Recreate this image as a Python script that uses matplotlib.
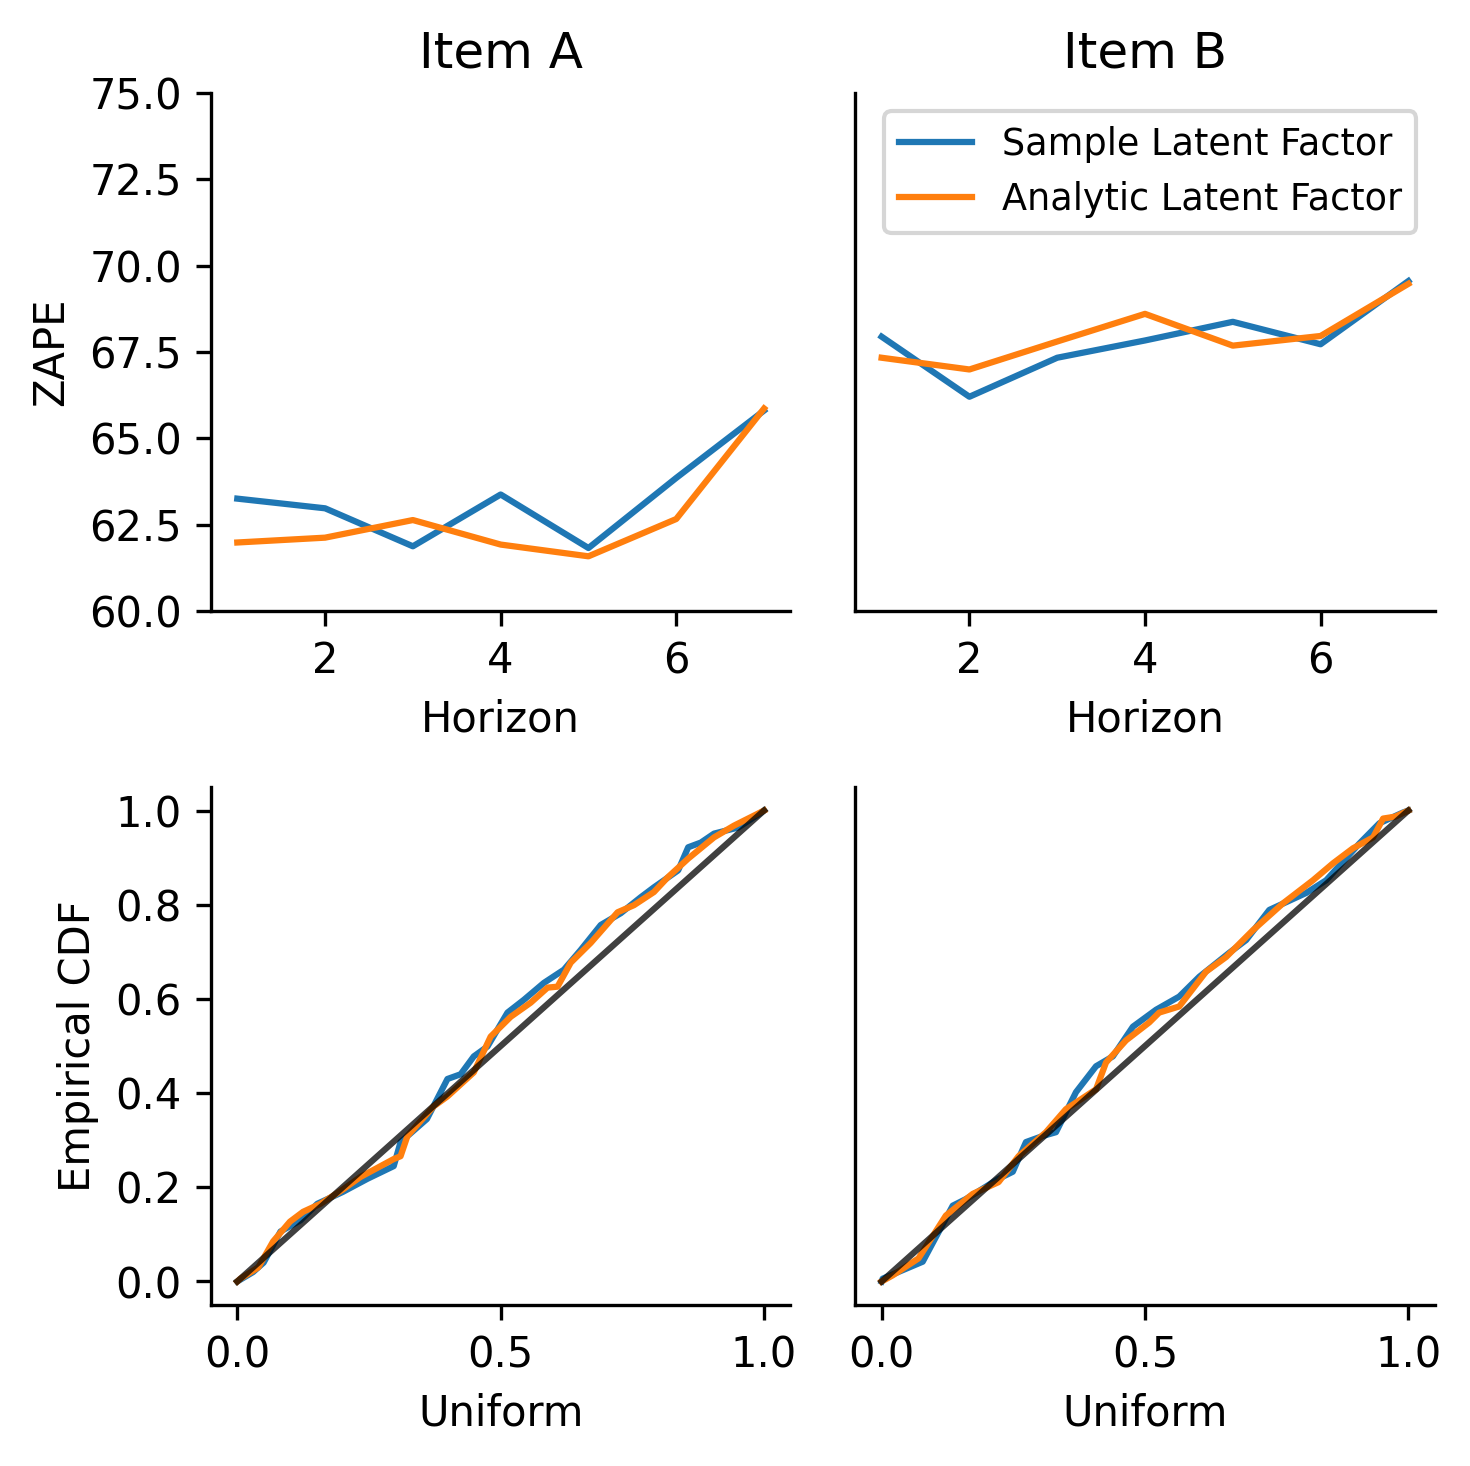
import numpy as np
import matplotlib
matplotlib.use("Agg")
import matplotlib.pyplot as plt

plt.rcParams["font.family"] = "DejaVu Sans"
plt.rcParams["font.size"] = 10

horizon = [1, 2, 3, 4, 5, 6, 7]

# ZAPE per horizon
a_sample = [63.25, 62.97, 61.87, 63.37, 61.82, 63.85, 65.8]
a_analytic = [61.98, 62.12, 62.63, 61.92, 61.58, 62.66, 65.86]
b_sample = [67.94, 66.2, 67.33, 67.83, 68.37, 67.72, 69.55]
b_analytic = [67.33, 66.99, 67.8, 68.6, 67.68, 67.96, 69.47]

# empirical CDF vs uniform
a_sample_u = [0, 0.03, 0.05, 0.082, 0.12, 0.152, 0.2, 0.247, 0.297, 0.31, 0.36, 0.399,
              0.424, 0.449, 0.475, 0.513, 0.544, 0.582, 0.62, 0.652, 0.69, 0.728, 0.766,
              0.791, 0.837, 0.856, 0.88, 0.905, 0.951, 1.0]
a_sample_cdf = [0, 0.02, 0.04, 0.106, 0.13, 0.165, 0.19, 0.218, 0.245, 0.296, 0.345, 0.43,
                0.44, 0.478, 0.499, 0.571, 0.598, 0.634, 0.662, 0.704, 0.757, 0.782, 0.816,
                0.837, 0.873, 0.922, 0.932, 0.951, 0.964, 1.0]
a_analytic_u = [0, 0.006, 0.04, 0.068, 0.1, 0.125, 0.158, 0.2, 0.234, 0.297, 0.31, 0.323,
                0.373, 0.399, 0.449, 0.481, 0.519, 0.557, 0.589, 0.608, 0.633, 0.671, 0.722,
                0.753, 0.791, 0.817, 0.856, 0.905, 0.943, 1.0]
a_analytic_cdf = [0, 0.006, 0.03, 0.085, 0.127, 0.148, 0.165, 0.195, 0.222, 0.26, 0.266, 0.309,
                  0.372, 0.393, 0.444, 0.52, 0.562, 0.592, 0.624, 0.626, 0.677, 0.719, 0.784,
                  0.799, 0.827, 0.858, 0.898, 0.943, 0.968, 1.0]
b_sample_u = [0, 0.002, 0.078, 0.135, 0.16, 0.222, 0.249, 0.274, 0.306, 0.331, 0.369, 0.407,
              0.439, 0.477, 0.521, 0.565, 0.603, 0.66, 0.692, 0.736, 0.806, 0.844, 0.907,
              0.945, 0.99, 1.0]
b_sample_cdf = [0, 0.006, 0.042, 0.161, 0.175, 0.218, 0.233, 0.296, 0.309, 0.317, 0.402, 0.457,
                0.478, 0.541, 0.577, 0.605, 0.647, 0.698, 0.725, 0.789, 0.825, 0.852, 0.93,
                0.973, 0.996, 1.0]
b_analytic_u = [0, 0.021, 0.07, 0.122, 0.173, 0.222, 0.26, 0.312, 0.35, 0.407, 0.426, 0.464,
                0.508, 0.527, 0.565, 0.616, 0.654, 0.705, 0.762, 0.819, 0.857, 0.895, 0.933,
                0.952, 0.975, 1.0]
b_analytic_cdf = [0, 0.013, 0.049, 0.14, 0.186, 0.211, 0.266, 0.317, 0.366, 0.408, 0.465, 0.512,
                  0.55, 0.571, 0.584, 0.658, 0.689, 0.746, 0.803, 0.852, 0.888, 0.92, 0.943,
                  0.983, 0.987, 1.0]

titles = ["Item A", "Item B"]

fig, axes = plt.subplots(2, 2, figsize=(4.9, 4.887), dpi=300, sharey="row")
fig.subplots_adjust(left=0.1435, right=0.976, top=0.9366, bottom=0.1098,
                    wspace=0.112, hspace=0.34)

tops = [(a_sample, a_analytic), (b_sample, b_analytic)]
for i, (s, a) in enumerate(tops):
    ax = axes[0, i]
    ax.plot(horizon, s, color="tab:blue", lw=1.5, label="Sample Latent Factor")
    ax.plot(horizon, a, color="tab:orange", lw=1.5, label="Analytic Latent Factor")
    ax.set_title(titles[i], fontsize=12)
    ax.set_xlabel("Horizon")
    ax.set_xticks([2, 4, 6])
axes[0, 0].set_ylim(60, 75)
axes[0, 0].set_yticks(np.arange(60, 75.1, 2.5))
axes[0, 0].set_ylabel("ZAPE")
axes[0, 1].legend(loc="upper right", fontsize=8.8)

bottoms = [(a_sample_u, a_sample_cdf, a_analytic_u, a_analytic_cdf),
           (b_sample_u, b_sample_cdf, b_analytic_u, b_analytic_cdf)]
for i, (su, sc, au, ac) in enumerate(bottoms):
    ax = axes[1, i]
    ax.plot(su, sc, color="tab:blue", lw=1.5)
    ax.plot(au, ac, color="tab:orange", lw=1.5)
    ax.plot([0, 1], [0, 1], color="k", alpha=0.75, lw=1.5)
    ax.set_xlabel("Uniform")
    ax.set_xticks([0, 0.5, 1.0])
axes[1, 0].set_yticks(np.arange(0, 1.01, 0.2))
axes[1, 0].set_ylabel("Empirical CDF")

for ax in axes.flat:
    ax.spines["top"].set_visible(False)
    ax.spines["right"].set_visible(False)
for ax in axes[:, 1]:
    ax.tick_params(left=False, labelleft=False)

fig.savefig("out.png", dpi=300)
